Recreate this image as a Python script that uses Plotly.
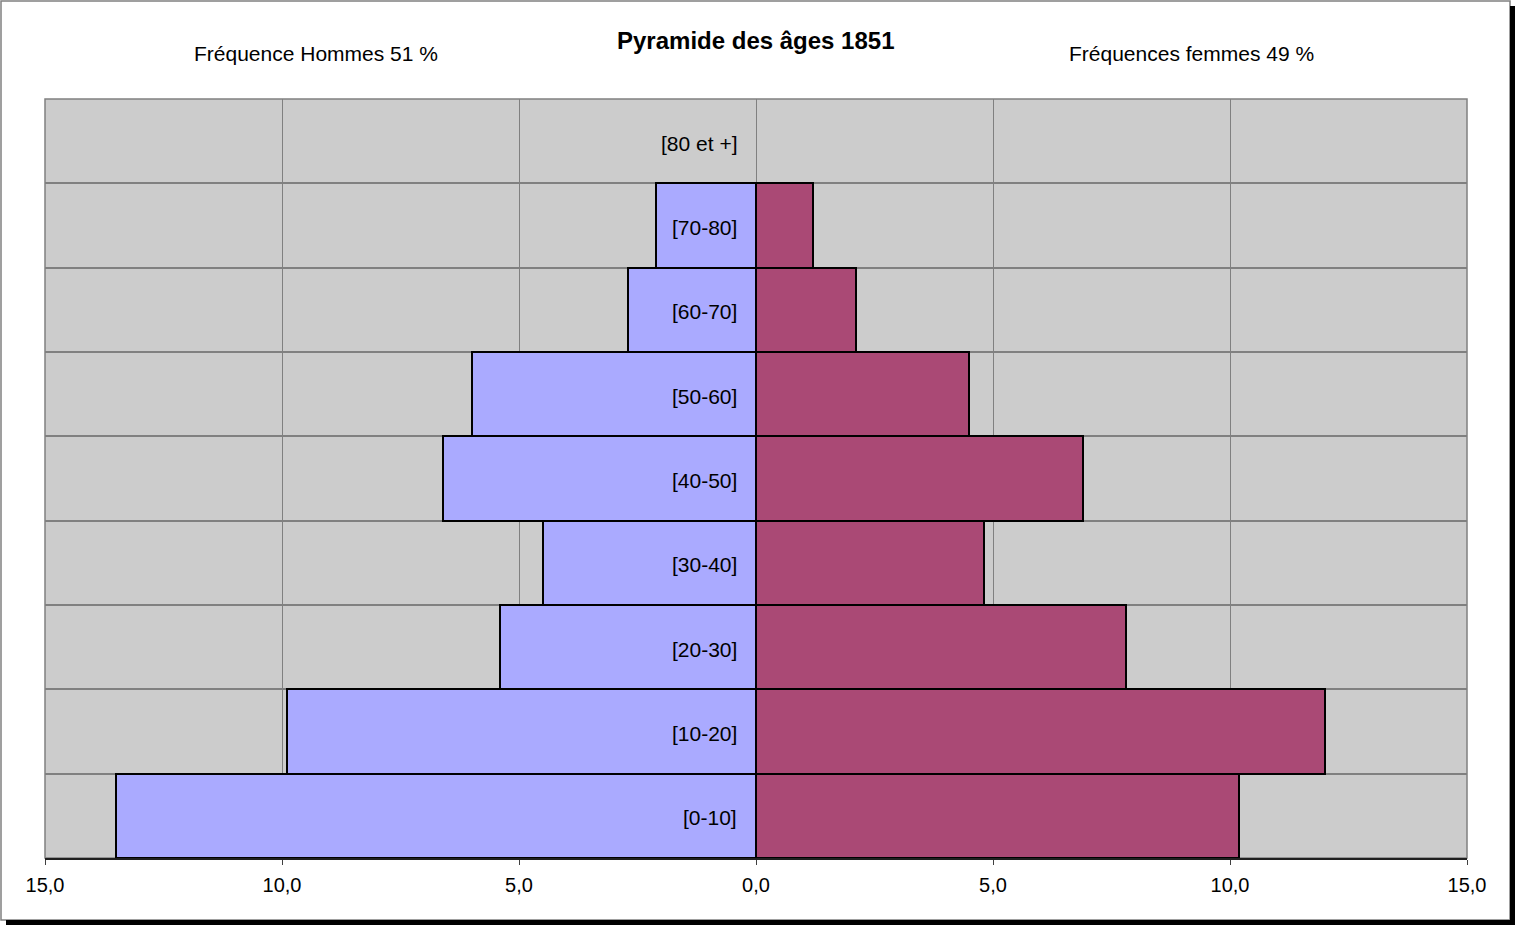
import plotly.graph_objects as go

# tranches d'age, du bas vers le haut
ages = ["[0-10]", "[10-20]", "[20-30]", "[30-40]", "[40-50]",
        "[50-60]", "[60-70]", "[70-80]", "[80 et +]"]
hommes = [13.5, 9.9, 5.4, 4.5, 6.6, 6.0, 2.7, 2.1, 0.0]
femmes = [10.2, 12.0, 7.8, 4.8, 6.9, 4.5, 2.1, 1.2, 0.0]
x_ticks = [-15, -10, -5, 0, 5, 10, 15]

W, H = 1516, 926
L, R, T, B = 45, 49, 99, 68
PW, PH = W - L - R, H - T - B

def px(x):
    return (x - L) / PW

def py(y):
    return (H - B - y) / PH

pos = list(range(len(ages)))

fig = go.Figure()
fig.add_trace(go.Bar(
    y=pos, x=[-v for v in hommes], orientation="h",
    marker=dict(color="#AAAAFF",
                line=dict(color="black", width=[2 if v else 0 for v in hommes])),
    name="Hommes", showlegend=False,
))
fig.add_trace(go.Bar(
    y=pos, x=femmes, orientation="h",
    marker=dict(color="#AA4975",
                line=dict(color="black", width=[2 if v else 0 for v in femmes])),
    name="Femmes", showlegend=False,
))

# labels des tranches a gauche de l'axe 0
for i, a in enumerate(ages):
    fig.add_annotation(x=0, y=i, text=a, showarrow=False, xanchor="right",
                       xshift=-17, yshift=-2, font=dict(size=21, color="black"))

fig.add_annotation(x=0.5, y=py(40), xref="paper", yref="paper",
                   xanchor="center", yanchor="middle",
                   text="<b>Pyramide des âges 1851</b>", showarrow=False,
                   font=dict(size=24, color="black"))
fig.add_annotation(x=px(316), y=py(54), xref="paper", yref="paper",
                   xanchor="center", yanchor="middle",
                   text="Fréquence Hommes 51 %", showarrow=False,
                   font=dict(size=21, color="black"))
fig.add_annotation(x=px(1191), y=py(54), xref="paper", yref="paper",
                   xanchor="center", yanchor="middle",
                   text="Fréquences femmes 49 %", showarrow=False,
                   font=dict(size=21, color="black"))

# cadre du graphique et ombre
fig.add_shape(type="rect", xref="paper", yref="paper",
              x0=px(1), x1=px(1510), y0=py(1), y1=py(920),
              line=dict(color="#808080", width=1.5), layer="below")
fig.add_shape(type="rect", xref="paper", yref="paper",
              x0=px(1510), x1=px(1515), y0=py(6), y1=py(925),
              fillcolor="black", line=dict(width=0))
fig.add_shape(type="rect", xref="paper", yref="paper",
              x0=px(6), x1=px(1515), y0=py(920), y1=py(925),
              fillcolor="black", line=dict(width=0))
# bord de la zone de trace
fig.add_shape(type="rect", xref="paper", yref="paper",
              x0=0, x1=1, y0=0, y1=1,
              line=dict(color="#808080", width=1.5), layer="between")

fig.update_layout(
    width=W, height=H,
    margin=dict(l=L, r=R, t=T, b=B),
    paper_bgcolor="white", plot_bgcolor="#CCCCCC",
    barmode="overlay", bargap=0,
    font=dict(family="Liberation Sans, Arial", color="black"),
)
fig.update_xaxes(
    range=[-15, 15], tickvals=x_ticks,
    ticktext=[f"{abs(v):.1f}".replace(".", ",") for v in x_ticks],
    showgrid=True, gridcolor="#808080", gridwidth=1, zeroline=False,
    showline=True, linecolor="#202020", linewidth=1.5,
    ticks="outside", ticklen=5, tickcolor="#404040",
    tickfont=dict(size=20, color="black"), ticklabelstandoff=3,
)
fig.update_yaxes(
    range=[-0.5, len(ages) - 0.5],
    tickvals=[i - 0.5 for i in range(len(ages) + 1)],
    showticklabels=False, ticks="",
    showgrid=True, gridcolor="#808080", gridwidth=1.5, zeroline=False,
)

fig.write_html("out.html", config={"displayModeBar": False},
               post_script="document.body.style.margin='0';")
